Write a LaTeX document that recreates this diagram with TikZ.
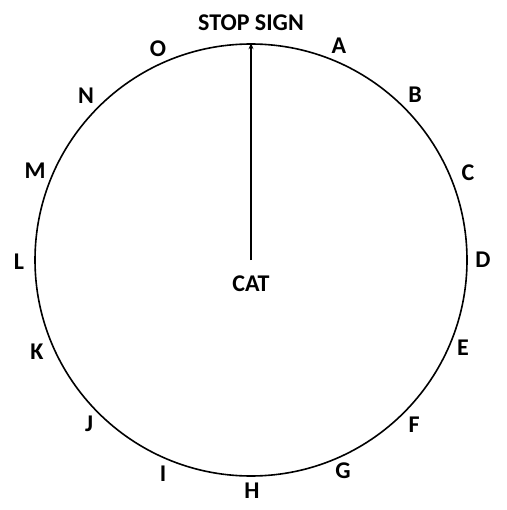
\documentclass[tikz,border=0pt]{standalone}
\usepackage{fontspec}
\setmainfont{Carlito}
\usetikzlibrary{arrows.meta}
\begin{document}
\begin{tikzpicture}[x=1pt,y=-1pt,
  lbl/.style={font=\bfseries\fontsize{24}{26}\selectfont, inner sep=0pt, anchor=center}]
\useasboundingbox (0,0) rectangle (506,510);
\node[circle, draw, line width=1.6pt, minimum size=432pt, inner sep=0pt] (circ) at (251,260) {};
\coordinate (ctr) at (251,260);
\draw[line width=1.6pt, -{Stealth[length=6pt,width=5pt]}] (ctr) -- (circ.north);
\node[lbl] (stop) at (251,23) {STOP SIGN};
\node[lbl] (cat) at (251,284) {CAT};
\node[lbl] (a) at (339,46) {A};
\node[lbl] (b) at (415,95) {B};
\node[lbl] (c) at (468,173) {C};
\node[lbl] (d) at (483,260) {D};
\node[lbl] (e) at (463,348) {E};
\node[lbl] (f) at (414,425) {F};
\node[lbl] (g) at (343,471) {G};
\node[lbl] (h) at (252,491) {H};
\node[lbl] (i) at (163,474) {I};
\node[lbl] (j) at (89,424) {J};
\node[lbl] (k) at (37,352) {K};
\node[lbl] (l) at (19,262) {L};
\node[lbl] (m) at (35,171) {M};
\node[lbl] (n) at (86,96) {N};
\node[lbl] (o) at (158,49) {O};
\end{tikzpicture}
\end{document}
